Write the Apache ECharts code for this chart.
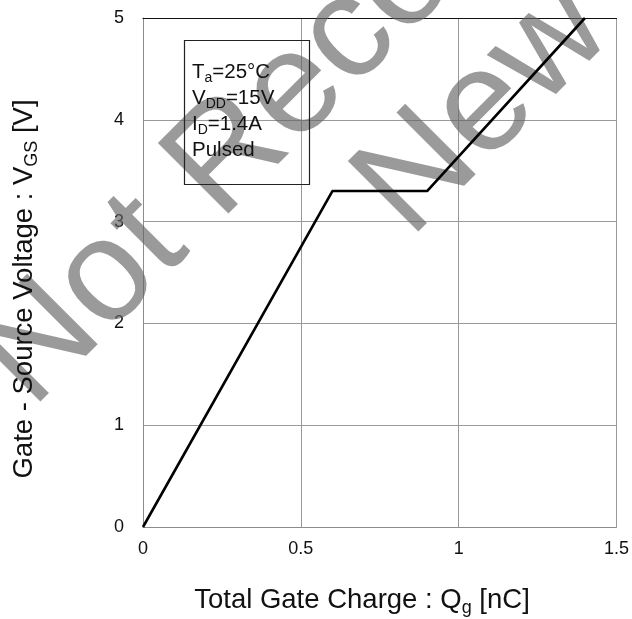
<!DOCTYPE html>
<html><head><meta charset="utf-8">
<script src="https://cdn.jsdelivr.net/npm/echarts@6/dist/echarts.min.js"></script>
<style>html,body{margin:0;padding:0;background:#fff}#c{width:632px;height:619px}</style>
</head><body><div id="c"></div>
<script>
// Data
const qg = [0, 0.6, 0.9, 1.4];          // Total gate charge [nC]
const vgs = [0, 3.3, 3.3, 5.0];         // Gate-source voltage [V]
const xMin = 0, xMax = 1.5, xStep = 0.5;
const yMin = 0, yMax = 5, yStep = 1;
const condLines = [
  '{n|T}{s|a}{n|=25°C}',
  '{n|V}{s|DD}{n|=15V}',
  '{n|I}{s|D}{n|=1.4A}',
  '{n|Pulsed}'
];
const xName = '{n|Total Gate Charge : Q}{s|g}{n| [nC]}';
const yName = '{n|Gate - Source Voltage : V}{s|GS}{n| [V]}';
const watermark1 = 'Not Recommended for';
const watermark2 = 'New Designs';

const FONT = 'Liberation Sans, Arial, sans-serif';
const chart = echarts.init(document.getElementById('c'), null, {renderer: 'canvas'});
const wmStyle = (t, x, y) => ({
  type: 'text', x: x, y: y, rotation: Math.PI / 4, z: 1, silent: true,
  style: { text: t, fill: 'rgba(100,100,100,0.65)', font: '145px ' + FONT,
           textAlign: 'left', textVerticalAlign: 'bottom' }
});
const richTxt = (big, small, lh) => ({
  n: { fontSize: big, fontFamily: FONT, lineHeight: lh, fill: '#111', color: '#111' },
  s: { fontSize: small, fontFamily: FONT, lineHeight: Math.round(small * 1.25), verticalAlign: 'bottom', fill: '#111', color: '#111' }
});
chart.setOption({
  animation: false,
  backgroundColor: '#fff',
  grid: { left: 143, right: 15, top: 18, bottom: 92, containLabel: false },
  xAxis: [{
    type: 'value', min: xMin, max: xMax, interval: xStep,
    axisLine: { show: true, lineStyle: { color: '#8c8c8c', width: 1 } },
    axisTick: { show: false },
    splitLine: { show: true, lineStyle: { color: '#9a9a9a', width: 1 } },
    axisLabel: { color: '#111', fontSize: 18, fontFamily: FONT, margin: 13,
      formatter: v => String(v) }
  }, {
    type: 'value', position: 'top', min: xMin, max: xMax, interval: xStep,
    axisLine: { show: true, lineStyle: { color: '#111', width: 1.2 } },
    axisTick: { show: false }, axisLabel: { show: false }, splitLine: { show: false }
  }],
  yAxis: {
    type: 'value', min: yMin, max: yMax, interval: yStep,
    axisLine: { show: true, lineStyle: { color: '#8c8c8c', width: 1 } },
    axisTick: { show: false },
    splitLine: { show: true, lineStyle: { color: '#9a9a9a', width: 1 } },
    axisLabel: { color: '#111', fontSize: 18, fontFamily: FONT, margin: 19 }
  },
  series: [{
    type: 'line', xAxisIndex: 0, data: qg.map((x, i) => [x, vgs[i]]),
    showSymbol: false, symbol: 'none', z: 5,
    lineStyle: { color: '#000', width: 2.6 }
  }],
  graphic: [
    wmStyle(watermark1, 55, 433),
    wmStyle(watermark2, 433, 263),
    { type: 'rect', z: 6, shape: { x: 184.5, y: 40.5, width: 125, height: 144 },
      style: { fill: 'none', stroke: '#222', lineWidth: 1.2 } },
    { type: 'text', z: 6, x: 192, y: 59,
      style: { text: condLines.join('\n'), fill: '#111', textAlign: 'left', textVerticalAlign: 'top',
        rich: richTxt(20.5, 14, 26) } },
    { type: 'text', z: 6, x: 362, y: 600,
      style: { text: xName, fill: '#111', textAlign: 'center', textVerticalAlign: 'middle',
        rich: richTxt(27.5, 18, 34) } },
    { type: 'text', z: 6, x: 24, y: 289, rotation: Math.PI / 2,
      style: { text: yName, fill: '#111', textAlign: 'center', textVerticalAlign: 'middle',
        rich: richTxt(27.5, 18, 34) } }
  ]
});
</script></body></html>
